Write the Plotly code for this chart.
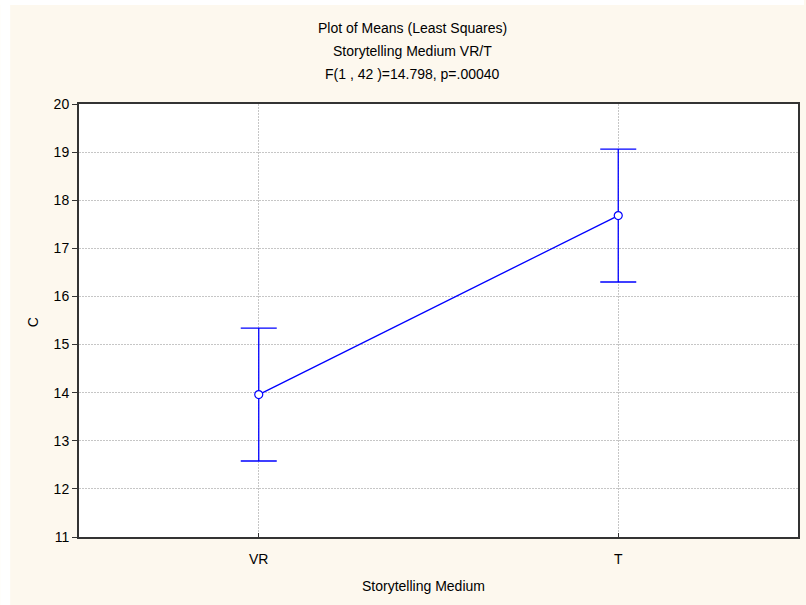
import plotly.graph_objects as go

categories = ["VR", "T"]
means = [13.96, 17.68]
errors = [1.38, 1.38]
title_lines = ["Plot of Means (Least Squares)", "Storytelling Medium VR/T", "F(1 , 42 )=14.798, p=.00040"]

W, H = 806, 605
L, R, T, B = 79, 6, 104, 68
pw = W - L - R
ph = H - T - B
font = "Liberation Sans, Arial, sans-serif"

fig = go.Figure()
fig.add_trace(go.Scatter(
    x=[0, 1], y=means, mode="lines+markers",
    line=dict(color="#0000FF", width=1.3),
    marker=dict(symbol="circle", size=8, color="white", line=dict(color="#0000FF", width=1.2)),
    error_y=dict(type="data", array=errors, color="#0000FF", thickness=1.3, width=18),
    showlegend=False,
))

def px_x(x):
    return (x - L) / pw

def px_y(y):
    return (H - B - y) / ph

annotations = []
for txt, yy in zip(title_lines, [28, 51, 74]):
    annotations.append(dict(text=txt, x=px_x(413), y=px_y(yy), xref="paper", yref="paper",
                            xanchor="center", yanchor="middle", showarrow=False,
                            font=dict(family=font, size=14, color="#000")))
annotations.append(dict(text="Storytelling Medium", x=px_x(424), y=px_y(586), xref="paper", yref="paper",
                        xanchor="center", yanchor="middle", showarrow=False,
                        font=dict(family=font, size=14, color="#000")))
annotations.append(dict(text="C", x=px_x(33), y=px_y(322), xref="paper", yref="paper",
                        xanchor="center", yanchor="middle", showarrow=False, textangle=-90,
                        font=dict(family=font, size=14, color="#000")))

shapes = [
    dict(type="rect", xref="paper", yref="paper", x0=px_x(0), x1=px_x(10), y0=px_y(H), y1=px_y(0),
         fillcolor="white", line=dict(width=0)),
    dict(type="rect", xref="paper", yref="paper", x0=px_x(0), x1=px_x(W), y0=px_y(5), y1=px_y(0),
         fillcolor="white", line=dict(width=0)),
]

grid = dict(showgrid=True, gridcolor="#C6C6C6", griddash="2px,1px", gridwidth=0.6)

fig.update_layout(
    width=W, height=H,
    margin=dict(l=L, r=R, t=T, b=B),
    paper_bgcolor="#FDF8EE",
    plot_bgcolor="white",
    font=dict(family=font, size=14, color="#000"),
    annotations=annotations,
    shapes=shapes,
    xaxis=dict(range=[-0.5, 1.5], tickvals=[0, 1], ticktext=categories, **grid,
               showline=True, linecolor="#333333", linewidth=2, mirror=True,
               ticks="inside", ticklen=4, tickcolor="#333", zeroline=False,
               ticklabelstandoff=8,
               tickfont=dict(family=font, size=14)),
    yaxis=dict(range=[11, 20], dtick=1, tick0=11, **grid,
               showline=True, linecolor="#333333", linewidth=2, mirror=True,
               ticks="outside", ticklen=5, tickcolor="#333", zeroline=False,
               tickfont=dict(family=font, size=14)),
)

fig.write_html("out.html", config={"displayModeBar": False},
               post_script="document.body.style.margin='0px';document.body.style.overflow='hidden';")
